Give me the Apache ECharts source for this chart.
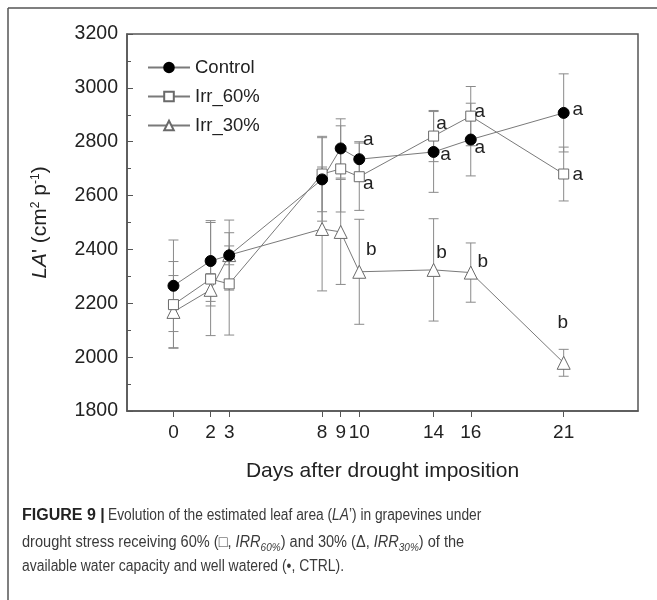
<!DOCTYPE html>
<html>
<head>
<meta charset="utf-8">
<title>Estimated leaf area under drought</title>
<script src="https://cdn.jsdelivr.net/npm/echarts@6/dist/echarts.min.js"></script>
<style>
    html, body { margin: 0; padding: 0; background: #fff; }
    #chart { width: 657px; height: 600px; }
</style>
</head>
<body>
<div id="chart"></div>
<script>
// values
const days = [0, 2, 3, 8, 9, 10, 14, 16, 21];
const yTicks = [1800, 3200, 200];   // min, max, step

const ctrlMean  = [2265, 2357, 2378, 2660, 2775, 2735, 2762, 2808, 2907];
const ctrlErr   = [170, 150, 35, 155, 110, 65, 150, 135, 145];
const irr60Mean = [2195, 2290, 2272, 2680, 2699, 2670, 2821, 2895, 2680];
const irr60Err  = [160, 210, 190, 140, 160, 125, 95, 110, 100];
const irr30Mean = [2168, 2250, 2379, 2476, 2465, 2317, 2324, 2314, 1979];
const irr30Err  = [135, 60, 130, 230, 195, 195, 190, 110, 50];

const ctrlLetters  = ['', '', '', '', '', 'a', 'a', 'a', 'a'];
const irr60Letters = ['', '', '', '', '', 'a', 'a', 'a', 'a'];
const irr30Letters = ['', '', '', '', '', 'b', 'b', 'b', 'b'];

// where each letter sits next to its point (px)
const letterOffsets = {
    'Control': { 5: [9, -19], 6: [12, 3], 7: [9, 8], 8: [14, -3] },
    'Irr_60%': { 5: [9, 7], 6: [8, -12], 7: [9, -4], 8: [14, 1] },
    'Irr_30%': { 5: [12, -22], 6: [8, -17], 7: [12, -11], 8: [-1, -40] }
};

const FONT = "'Liberation Sans', Arial, sans-serif";
const GREY = '#7a7a7a';

function pointData(name, mean, letters) {
    return days.map((d, i) => {
        const item = { value: [d, mean[i]] };
        if (letters[i]) {
            item.label = {
                show: true,
                formatter: letters[i],
                position: 'inside',
                offset: letterOffsets[name][i],
                fontSize: 19,
                fontFamily: FONT,
                color: '#222'
            };
        }
        return item;
    });
}

function errorBars(mean, err) {
    return {
        type: 'custom',
        silent: true,
        z: 1,
        renderItem: function (params, api) {
            const x = api.value(0);
            const lo = api.coord([x, api.value(1)]);
            const hi = api.coord([x, api.value(2)]);
            const w = 5;
            const st = { stroke: '#8a8a8a', lineWidth: 1 };
            return {
                type: 'group',
                children: [
                    { type: 'line', shape: { x1: hi[0], y1: hi[1], x2: lo[0], y2: lo[1] }, style: st },
                    { type: 'line', shape: { x1: hi[0] - w, y1: hi[1], x2: hi[0] + w, y2: hi[1] }, style: st },
                    { type: 'line', shape: { x1: lo[0] - w, y1: lo[1], x2: lo[0] + w, y2: lo[1] }, style: st }
                ]
            };
        },
        encode: { x: 0, y: [1, 2] },
        data: days.map((d, i) => [d, mean[i] - err[i], mean[i] + err[i]])
    };
}

function lineSeries(name, mean, letters, symbol, size, fill) {
    return {
        name: name,
        type: 'line',
        z: 3,
        symbol: symbol,
        symbolSize: size,
        lineStyle: { color: GREY, width: 1 },
        itemStyle: { color: fill, borderColor: fill === '#000' ? '#000' : '#6a6a6a', borderWidth: 1 },
        emphasis: { disabled: true },
        data: pointData(name, mean, letters)
    };
}

// caption face in the paper is a condensed one, so squeeze it a bit
function captionLine(x, y, scale, text, rich) {
    return {
        type: 'text', x: x, y: y, scaleX: scale,
        style: {
            text: text,
            font: "16px 'Liberation Sans', sans-serif",
            fill: '#3a3a3a',
            verticalAlign: 'top',
            rich: rich || {}
        }
    };
}

const chart = echarts.init(document.getElementById('chart'));

chart.setOption({
    animation: false,
    backgroundColor: '#fff',
    grid: {
        left: 127, right: 19, top: 34, bottom: 189,
        show: true, borderColor: '#555', borderWidth: 1.5
    },
    legend: {
        orient: 'vertical',
        left: 142, top: 53,
        itemWidth: 42, itemHeight: 12, itemGap: 10,
        data: ['Control', 'Irr_60%', 'Irr_30%'],
        textStyle: { fontSize: 18.5, fontFamily: FONT, color: '#222' }
    },
    xAxis: {
        type: 'value',
        min: -2.5, max: 25,
        name: 'Days after drought imposition',
        nameLocation: 'middle',
        nameGap: 50,
        nameTextStyle: { fontSize: 21, fontFamily: FONT, color: '#222' },
        axisLine: { onZero: false, lineStyle: { color: '#555', width: 1.5 } },
        axisTick: { customValues: days, length: 6, lineStyle: { color: '#555' } },
        axisLabel: { customValues: days, margin: 12, fontSize: 19, fontFamily: FONT, color: '#222' },
        splitLine: { show: false }
    },
    yAxis: {
        type: 'value',
        min: yTicks[0], max: yTicks[1], interval: yTicks[2],
        name: "{it|LA}' (cm{sup|2} p{sup|-1})",
        nameLocation: 'middle',
        nameRotate: 90,
        nameGap: 76,
        nameTextStyle: {
            fontSize: 21, fontFamily: FONT, color: '#222',
            rich: {
                it: { fontSize: 21, fontStyle: 'italic', fontFamily: FONT, color: '#222' },
                sup: { fontSize: 12, verticalAlign: 'top', fontFamily: FONT, color: '#222' }
            }
        },
        axisLine: { show: true, onZero: false, lineStyle: { color: '#555', width: 1.5 } },
        axisTick: { inside: true, length: 6, lineStyle: { color: '#555' } },
        minorTick: { show: true, splitNumber: 2, length: 4, lineStyle: { color: '#555' } },
        axisLabel: {
            margin: 9, fontSize: 19.5, fontFamily: FONT, color: '#222',
            formatter: v => String(v)
        },
        splitLine: { show: false }
    },
    series: [
        errorBars(irr30Mean, irr30Err),
        errorBars(irr60Mean, irr60Err),
        errorBars(ctrlMean, ctrlErr),
        lineSeries('Irr_30%', irr30Mean, irr30Letters, 'triangle', 13, '#fff'),
        lineSeries('Irr_60%', irr60Mean, irr60Letters, 'rect', 10, '#fff'),
        lineSeries('Control', ctrlMean, ctrlLetters, 'circle', 11, '#000')
    ],
    graphic: [
        // figure frame (left and top edges)
        { type: 'line', shape: { x1: 8, y1: 8, x2: 657, y2: 8 }, style: { stroke: '#555', lineWidth: 1.5 } },
        { type: 'line', shape: { x1: 8, y1: 8, x2: 8, y2: 600 }, style: { stroke: '#555', lineWidth: 1.5 } },
        {
            type: 'text', x: 22, y: 508,
            style: {
                text: 'FIGURE 9 |',
                font: "bold 16px 'Liberation Sans', sans-serif",
                fill: '#222',
                verticalAlign: 'top'
            }
        },
        captionLine(108, 508, 0.86, 'Evolution of the estimated leaf area ({i|LA}\u2019) in grapevines under', {
            i: { fontStyle: 'italic', fontSize: 16, fontFamily: "'Liberation Sans', sans-serif" }
        }),
        captionLine(22, 533, 0.91, 'drought stress receiving 60% (\u25A1, {i|IRR}{s|60%}) and 30% (\u0394, {i|IRR}{s|30%}) of the', {
            i: { fontStyle: 'italic', fontSize: 16, lineHeight: 20, fontFamily: "'Liberation Sans', sans-serif" },
            s: { fontStyle: 'italic', fontSize: 11, lineHeight: 11, verticalAlign: 'bottom', fontFamily: "'Liberation Sans', sans-serif" }
        }),
        captionLine(22, 559, 0.87, 'available water capacity and well watered (\u2022, CTRL).')
    ]
});
</script>
</body>
</html>
